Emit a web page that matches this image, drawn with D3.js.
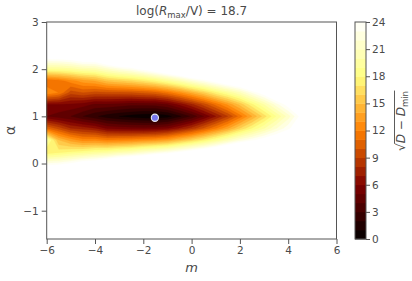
<!DOCTYPE html>
<html><head><meta charset="utf-8">
<script src="https://cdn.jsdelivr.net/npm/d3@7"></script>
<style>
body{margin:0;background:#fff}
svg{display:block}
text{font-family:"DejaVu Sans",sans-serif;fill:#4a4a4a}
</style>
</head><body>
<svg id="chart" width="412" height="281"></svg>
<script>
// ---- data ----
const mGrid = [-6,-5.5,-5,-4.5,-4,-3.5,-3,-2.5,-2,-1.5,-1,-0.5,0,0.5,1,1.5,2,2.5,3,3.5,4,4.5,5,5.5,6];
const alphaGrid = [-0.25,0,0.25,0.5,0.75,1.0,1.25,1.5,1.75,2.0,2.25,2.5];
// sqrt(D - Dmin); one column per m value, rows follow alphaGrid
const columns = [
  [30,23.2,17,20,11,5,6,13,11,19,25,30],
  [30,23.5,17.5,15,9.5,4.5,6,12,11.5,19.2,25,30],
  [30,24.3,18,13.5,8,4,5.8,9.5,12.5,19.5,25.5,30],
  [30,25.5,18.4,12.5,7.5,3,5.5,10,13.5,20.2,26.5,30],
  [30,26,19,12.5,7,2.2,4.8,9.6,14,20.5,26.5,30],
  [30,27.3,19.3,12,5.8,1.5,4.8,9.7,15.3,21.6,28.4,30],
  [30,28.6,20,12.2,5.5,1.0,4.6,9.8,15.8,22.6,29.8,30],
  [32,29.5,20.5,12.4,5.4,0.6,4.3,9.9,16.3,23.4,29,32],
  [32,30,21.4,12.8,5.3,0.3,4.3,10.2,17,24.6,30,32],
  [32,32,22.1,13.1,5.4,0.1,4.4,10.6,17.9,26,32,32],
  [32,32,22.9,13.7,5.9,0.6,5.0,11.5,19.1,27.4,32,32],
  [32,32,24,14.9,7.1,1.8,6.3,12.8,20.4,28.8,32,32],
  [32,32,25.1,16.1,8.4,3.2,7.7,14.3,22,30.6,32,32],
  [32,32,26.2,17.5,10.1,5,9.4,15.8,23.4,30,32,32],
  [32,32,27.5,19.1,11.9,7,11.3,17.6,24.9,32,32,32],
  [32,32,29,20.8,13.8,9,13.2,19.2,26.4,32,32,32],
  [32,32,30.2,22.5,16,11.5,15.3,20.9,27.5,32,32,32],
  [32,32,32,23.7,18,14,17.7,23.1,30,32,32,32],
  [32,32,32,24.9,19.9,16.5,20,25.1,32,32,32,32],
  [32,32,32,26.2,21.9,19,22.5,27.6,32,32,32,32],
  [32,32,32,26.8,23.7,21.5,24.8,30,32,32,32,32],
  [32,32,32,30,25.5,24.4,27,32,32,32,32,32],
  [32,32,32,32,30,28,30,32,32,32,32,32],
  [32,32,32,32,32,32,32,32,32,32,32,32],
  [32,32,32,32,32,32,32,32,32,32,32,32]
];
const levels = [0,1,2,3,4,5,6,7,8,9,10,11,12,13,14,15,16,17,18,19,20,21,22,23,24];
const colorbarTicks = [0,3,6,9,12,15,18,21,24];
const xTicks = [-6,-4,-2,0,2,4,6];
const yTicks = [-1,0,1,2,3];
const bestFit = [{m:-1.52, alpha:0.97}];
const titleValue = "18.7";

// ---- layout ----
const svg = d3.select("#chart");
const x = d3.scaleLinear([-6,6],[46.7,336.5]);
const y = d3.scaleLinear([-1.6,3],[239,22]);
const cbY = d3.scaleLinear([0,24],[239,22]);
const cbX0 = 355, cbW = 11;
const axisColor = "#555";

function afmhot(t){
  const c = v => Math.round(255*Math.max(0,Math.min(1,v)));
  return `rgb(${c(2*t)},${c(2*t-0.5)},${c(2*t-1)})`;
}
const vmax = levels[levels.length-1];
const bandColor = i => afmhot((levels[i]+levels[i+1])/2/vmax);

// ---- filled contours ----
const nx = mGrid.length, ny = alphaGrid.length;
const grid = new Array(nx*ny);
for (let j=0;j<ny;j++) for (let i=0;i<nx;i++) grid[j*nx+i] = -columns[i][j];
const dm = mGrid[1]-mGrid[0], da = alphaGrid[1]-alphaGrid[0];
const proj = d3.geoTransform({point(px,py){
  this.stream.point(x(mGrid[0]+(px-0.5)*dm), y(alphaGrid[0]+(py-0.5)*da));
}});
const path = d3.geoPath(proj);
const thr = levels.slice(1).map(t=>-t);
const cs = d3.contours().size([nx,ny]).thresholds(thr)(grid);

svg.append("clipPath").attr("id","clip").append("rect")
  .attr("x",x(-6)).attr("y",y(3)).attr("width",x(6)-x(-6)).attr("height",y(-1.6)-y(3));

const gPlot = svg.append("g").attr("clip-path","url(#clip)");
gPlot.selectAll("path.band").data(cs).join("path")
  .attr("class","band")
  .attr("d",path)
  .attr("fill",d=>{ const t=-d.value; const i=levels.indexOf(t)-1; return bandColor(i); })
  .attr("stroke",d=>{ const t=-d.value; const i=levels.indexOf(t)-1; return bandColor(i); })
  .attr("stroke-width",0.3);

// best-fit point
gPlot.selectAll("circle.best").data(bestFit).join("circle")
  .attr("class","best")
  .attr("cx",d=>x(d.m)).attr("cy",d=>y(d.alpha)).attr("r",3.6)
  .attr("fill","#7878f0").attr("stroke","#e8e8f0").attr("stroke-width",1.1);

// frame
svg.append("rect").attr("x",x(-6)).attr("y",y(3)).attr("width",x(6)-x(-6)).attr("height",y(-1.6)-y(3))
  .attr("fill","none").attr("stroke",axisColor).attr("stroke-width",1);

// axes
const fmt = d3.format("d");
const gx = svg.append("g").attr("transform",`translate(0,${y(-1.6)})`)
  .call(d3.axisBottom(x).tickValues(xTicks).tickFormat(fmt).tickSize(5).tickPadding(3));
const gy = svg.append("g").attr("transform",`translate(${x(-6)},0)`)
  .call(d3.axisLeft(y).tickValues(yTicks).tickFormat(fmt).tickSize(5).tickPadding(3));
[gx,gy].forEach(g=>{
  g.select(".domain").remove();
  g.selectAll(".tick line").attr("stroke",axisColor);
  g.selectAll(".tick text").attr("fill","#4a4a4a").style("font-size","10.5px").style("font-family","DejaVu Sans");
});

// axis labels
svg.append("text").attr("x",(x(-6)+x(6))/2).attr("y",272).attr("text-anchor","middle")
  .style("font-size","13px").style("font-style","italic").text("m");
svg.append("text").attr("transform",`translate(15,${(y(3)+y(-1.6))/2}) rotate(-90)`)
  .attr("text-anchor","middle").style("font-size","14px").text("α");

// title
const title = svg.append("text").attr("x",(x(-6)+x(6))/2).attr("y",15).attr("text-anchor","middle")
  .style("font-size","12px");
title.append("tspan").text("log(");
title.append("tspan").style("font-style","italic").text("R");
title.append("tspan").attr("dy",2.5).style("font-size","8.5px").text("max");
title.append("tspan").attr("dy",-2.5).text("/V) = " + titleValue);

// colorbar
const gcb = svg.append("g");
gcb.selectAll("rect.cb").data(d3.range(levels.length-1)).join("rect")
  .attr("class","cb")
  .attr("x",cbX0).attr("width",cbW)
  .attr("y",i=>cbY(levels[i+1])).attr("height",i=>cbY(levels[i])-cbY(levels[i+1])+0.4)
  .attr("fill",i=>bandColor(i));
gcb.append("rect").attr("x",cbX0).attr("y",cbY(24)).attr("width",cbW).attr("height",cbY(0)-cbY(24))
  .attr("fill","none").attr("stroke",axisColor).attr("stroke-width",1);
const gcbAxis = svg.append("g").attr("transform",`translate(${cbX0+cbW},0)`)
  .call(d3.axisRight(cbY).tickValues(colorbarTicks).tickFormat(fmt).tickSize(4).tickPadding(2));
gcbAxis.select(".domain").remove();
gcbAxis.selectAll(".tick line").attr("stroke",axisColor);
gcbAxis.selectAll(".tick text").attr("fill","#4a4a4a").style("font-size","10.5px").style("font-family","DejaVu Sans");

// colorbar label: sqrt(D - D_min)
const gl = svg.append("g").attr("transform",`translate(405,121) rotate(-90)`);
const lt = gl.append("text").attr("text-anchor","middle").style("font-size","12px");
lt.append("tspan").text("√");
lt.append("tspan").style("font-style","italic").text("D");
lt.append("tspan").text(" − ");
lt.append("tspan").style("font-style","italic").text("D");
lt.append("tspan").attr("dy",2.5).style("font-size","8.5px").text("min");
const node = lt.node();
const total = node.getComputedTextLength();
const sw = node.getSubStringLength(0,1);
gl.append("line").attr("x1",-total/2+sw-0.5).attr("x2",total/2+0.5)
  .attr("y1",-10.5).attr("y2",-10.5).attr("stroke","#4a4a4a").attr("stroke-width",0.9);
</script>
</body></html>
